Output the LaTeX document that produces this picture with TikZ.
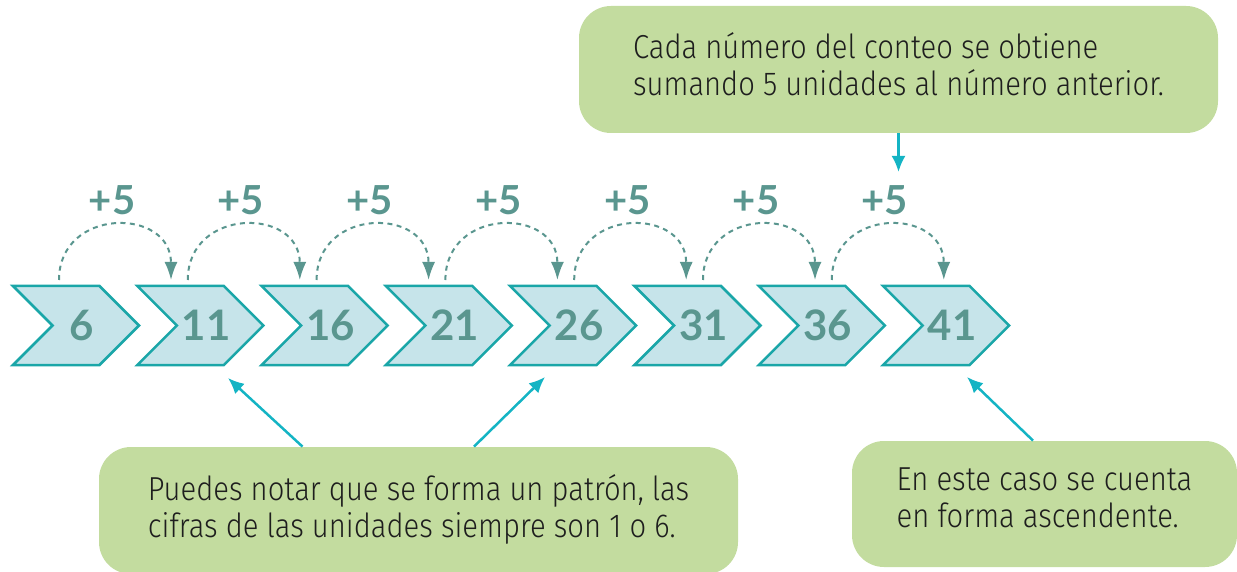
\documentclass[tikz,border=0pt]{standalone}
\usepackage{fontspec}
\setmainfont{Fira Sans}[UprightFont=* Light,FakeStretch=0.88]
\newfontfamily\numfont{Lato}
\usetikzlibrary{shapes.symbols,arrows.meta}
\definecolor{chevfill}{HTML}{C6E4EA}
\definecolor{chevline}{HTML}{1AA6A8}
\definecolor{numcol}{HTML}{5A968F}
\definecolor{notefill}{HTML}{C3DC9F}
\definecolor{callcol}{HTML}{14B4C4}
\definecolor{txtcol}{HTML}{1E1E1E}
\begin{document}
\begin{tikzpicture}[x=0.5pt,y=-0.5pt,
  chev/.style={signal,signal from=west,signal to=east,draw=chevline,fill=chevfill,line width=1.25pt,
    minimum width=63pt,minimum height=39.5pt,inner sep=0pt,outer sep=0pt},
  count/.style={font=\numfont\bfseries\fontsize{21}{21}\selectfont,text=numcol,xshift=3pt},
  plus/.style={font=\numfont\bfseries\fontsize{20}{20}\selectfont,text=numcol,inner sep=0pt},
  hop/.style={numcol,line width=1pt,dash pattern=on 2.5pt off 2.2pt,-{Latex[length=9pt,width=6.5pt]}},
  note/.style={fill=notefill,rounded corners=16pt,text=txtcol,align=left,inner sep=0pt,
    font=\fontsize{16.6}{18.5}\selectfont},
  callout/.style={callcol,line width=1.25pt,-{Latex[length=8pt,width=7pt]}}]
\useasboundingbox (0,0) rectangle (1237,572);
% chevrons with the count
\foreach \n [count=\i from 0] in {6,11,16,21,26,31,36,41} {
  \pgfmathsetmacro{\x}{76+\i*124.3}
  \node[chev,label={[count]center:\n}] (c\i) at (\x,325.5) {};
}
% +5 hops
\foreach \i in {0,...,6} {
  \pgfmathsetmacro{\s}{59+\i*128.8}
  \coordinate (a\i) at (\s,280);
  \coordinate (b\i) at (\s+112,280);
  \draw[hop] (a\i) .. controls +(0,-73) and +(0,-73) .. (b\i);
  \node[plus] (p\i) at (\s+53,200) {+5};
}
% notes
\node[note,minimum width=319.5pt,minimum height=63.5pt] (rule) at (898.5,69.5)
  {Cada número del conteo se obtiene\\sumando 5 unidades al número anterior.\\[-13.5pt]};
\node[note,minimum width=319.5pt,minimum height=63.5pt] (pat) at (418.5,510.5)
  {Puedes notar que se forma un patrón, las\\cifras de las unidades siempre son 1 o 6.\\[-14.5pt]};
\node[note,minimum width=192.5pt,minimum height=63pt] (asc) at (1044.5,504)
  {En este caso se cuenta\\en forma ascendente.\\[-12.5pt]};
% pointers
\coordinate (t0) at (898.5,172);
\coordinate (t1) at (228,378);
\coordinate (t2) at (545,377);
\coordinate (t3) at (967,377);
\draw[callout] (rule.south) -- (t0);
\draw[callout] ([xshift=-58pt]pat.north) -- (t1);
\draw[callout] ([xshift=27.75pt]pat.north) -- (t2);
\draw[callout] ([xshift=-5.75pt]asc.north) -- (t3);
\end{tikzpicture}
\end{document}
